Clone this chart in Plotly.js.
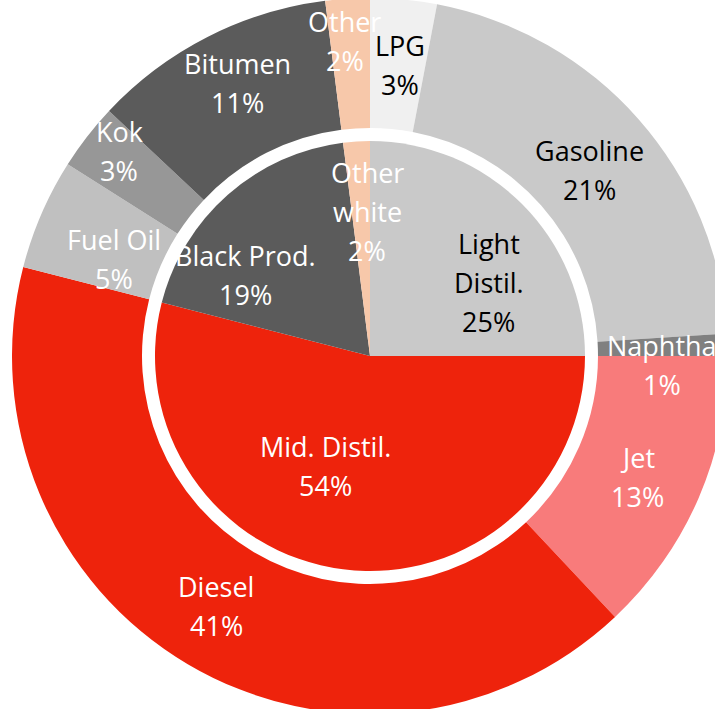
<!DOCTYPE html>
<html>
<head>
<meta charset="utf-8">
<script src="https://cdn.plot.ly/plotly-3.0.1.min.js"></script>
<style>
  html, body { margin: 0; padding: 0; width: 715px; height: 709px; overflow: hidden; background: #fff; }
  #chart { position: absolute; left: 12px; top: -2px; width: 716px; height: 716px; }
</style>
</head>
<body>
<div id="chart"></div>
<script>
// outer ring: products
const outerLabels = ['LPG', 'Gasoline', 'Naphtha', 'Jet', 'Diesel', 'Fuel Oil', 'Kok', 'Bitumen', 'Other'];
const outerValues = [3, 21, 1, 13, 41, 5, 3, 11, 2];
const outerColors = ['#f0f0f0', '#c9c9c9', '#808080', '#f87b7b', '#ee230c', '#c0c0c0', '#979797', '#5b5b5b', '#f7c8aa'];
const outerTextColors = ['#000', '#000', '#fff', '#fff', '#fff', '#fff', '#fff', '#fff', '#fff'];

// inner pie: product groups
const innerLabels = ['Light\nDistil.', 'Mid. Distil.', 'Black Prod.', 'Other\nwhite'];
const innerValues = [25, 54, 19, 2];
const innerColors = ['#c9c9c9', '#ee230c', '#5b5b5b', '#f7c8aa'];
const innerTextColors = ['#000', '#fff', '#fff', '#fff'];

// label nudges in px (dx, dy down) to mimic the original placement
const outerNudge = [[3, 0], [0, 7], [0, 18], [0, 5], [-5, -1], [12, 19], [-20, -26], [0, -13], [-7, -24]];
const innerNudge = [[20, 25], [-27, -29], [-32, 24], [6, -5]];

const SIZE = 716;
const R_OUT = 358, R_HOLE = 228, R_IN = 215;
const FONT = '"Open Sans", Lato, sans-serif';
const LINE = 39;

const inDom = [0.5 - R_IN / SIZE, 0.5 + R_IN / SIZE];

const outer = {
  type: 'pie', values: outerValues, labels: outerLabels,
  sort: false, direction: 'clockwise', rotation: 0,
  hole: R_HOLE / R_OUT,
  marker: { colors: outerColors, line: { width: 0 } },
  textinfo: 'none', hoverinfo: 'label+percent',
  domain: { x: [0, 1], y: [0, 1] }
};
const inner = {
  type: 'pie', values: innerValues, labels: innerLabels.map(l => l.replace('\n', ' ')),
  sort: false, direction: 'clockwise', rotation: 0,
  marker: { colors: innerColors, line: { width: 0 } },
  textinfo: 'none', hoverinfo: 'label+percent',
  domain: { x: inDom, y: inDom }
};

// labels placed at the middle angle of each slice
function sliceLabels(labels, values, colors, radiusPx, nudge) {
  const total = values.reduce((a, b) => a + b, 0);
  let cum = 0;
  const out = [];
  labels.forEach((lab, i) => {
    const mid = (cum + values[i] / 2) / total * 2 * Math.PI;
    cum += values[i];
    const r = radiusPx / SIZE;
    const x = 0.5 + r * Math.sin(mid);
    const y = 0.5 + r * Math.cos(mid);
    const lines = lab.split('\n').concat([Math.round(values[i] / total * 100) + '%']);
    lines.forEach((t, k) => {
      out.push({
        x: x, y: y, xref: 'paper', yref: 'paper', text: t, showarrow: false,
        xanchor: 'center', yanchor: 'middle',
        xshift: nudge[i][0],
        yshift: ((lines.length - 1) / 2 - k) * LINE - nudge[i][1],
        font: { family: FONT, size: 27, color: colors[i] }
      });
    });
  });
  return out;
}

const annotations = sliceLabels(outerLabels, outerValues, outerTextColors, 292, outerNudge)
  .concat(sliceLabels(innerLabels, innerValues, innerTextColors, 140, innerNudge));

const layout = {
  width: SIZE, height: SIZE,
  margin: { l: 0, r: 0, t: 0, b: 0 },
  showlegend: false,
  paper_bgcolor: 'rgba(0,0,0,0)',
  annotations: annotations
};

Plotly.newPlot('chart', [outer, inner], layout, { displayModeBar: false, staticPlot: true });
</script>
</body>
</html>
